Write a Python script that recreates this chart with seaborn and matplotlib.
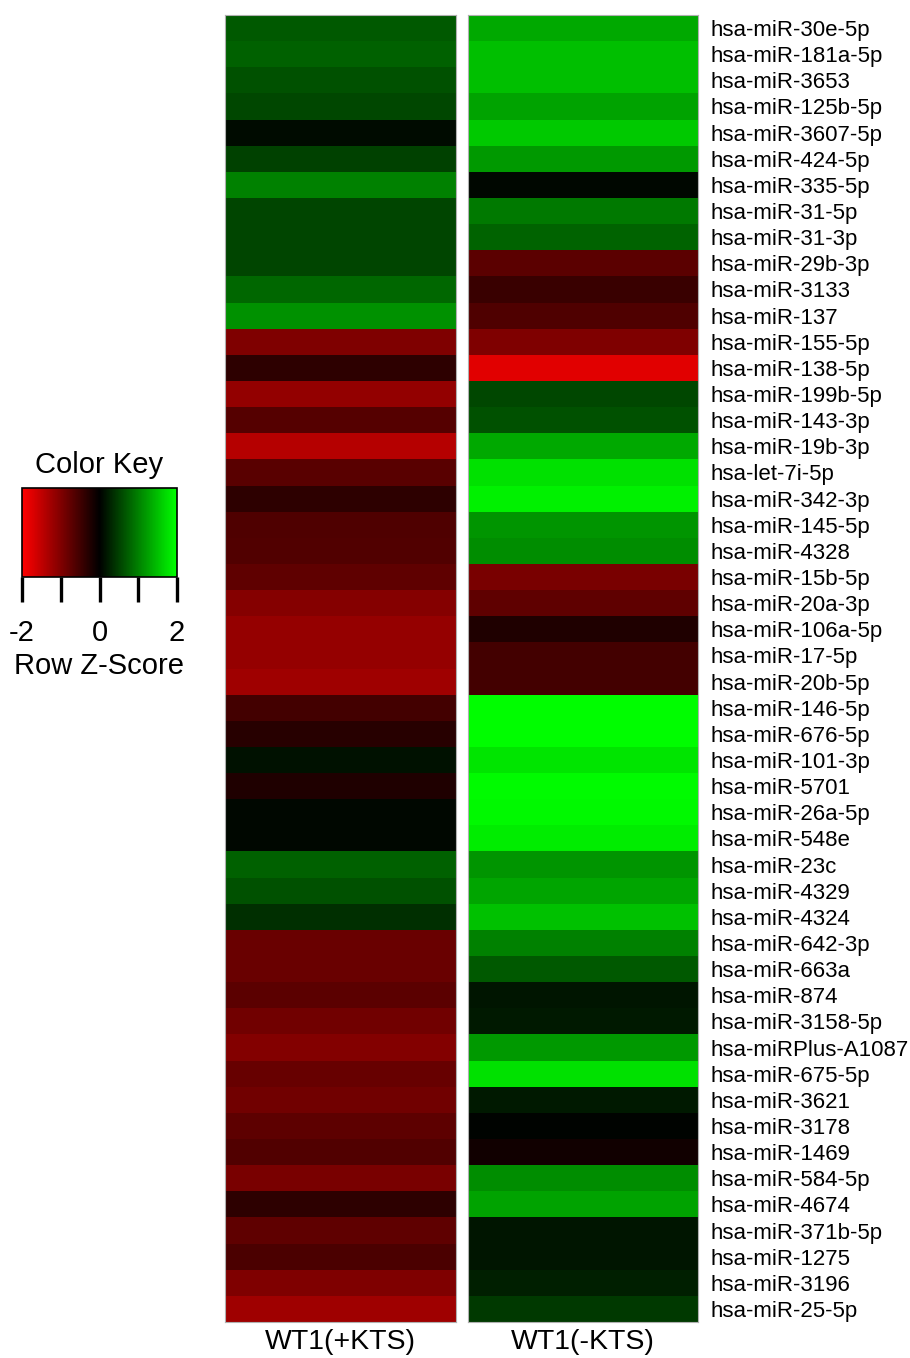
import numpy as np
import pandas as pd
import matplotlib
matplotlib.use('Agg')
import matplotlib.pyplot as plt
import seaborn as sns
from matplotlib.colors import LinearSegmentedColormap

sns.set_style('white')
plt.rcParams['font.family'] = ['Liberation Sans', 'DejaVu Sans']
plt.rcParams['text.color'] = 'black'
plt.rcParams['xtick.color'] = 'black'
plt.rcParams['ytick.color'] = 'black'
plt.rcParams['axes.labelcolor'] = 'black'

# miRNA 名称（从上到下）
mirnas = [
    'hsa-miR-30e-5p', 'hsa-miR-181a-5p', 'hsa-miR-3653', 'hsa-miR-125b-5p',
    'hsa-miR-3607-5p', 'hsa-miR-424-5p', 'hsa-miR-335-5p', 'hsa-miR-31-5p',
    'hsa-miR-31-3p', 'hsa-miR-29b-3p', 'hsa-miR-3133', 'hsa-miR-137',
    'hsa-miR-155-5p', 'hsa-miR-138-5p', 'hsa-miR-199b-5p', 'hsa-miR-143-3p',
    'hsa-miR-19b-3p', 'hsa-let-7i-5p', 'hsa-miR-342-3p', 'hsa-miR-145-5p',
    'hsa-miR-4328', 'hsa-miR-15b-5p', 'hsa-miR-20a-3p', 'hsa-miR-106a-5p',
    'hsa-miR-17-5p', 'hsa-miR-20b-5p', 'hsa-miR-146-5p', 'hsa-miR-676-5p',
    'hsa-miR-101-3p', 'hsa-miR-5701', 'hsa-miR-26a-5p', 'hsa-miR-548e',
    'hsa-miR-23c', 'hsa-miR-4329', 'hsa-miR-4324', 'hsa-miR-642-3p',
    'hsa-miR-663a', 'hsa-miR-874', 'hsa-miR-3158-5p', 'hsa-miRPlus-A1087',
    'hsa-miR-675-5p', 'hsa-miR-3621', 'hsa-miR-3178', 'hsa-miR-1469',
    'hsa-miR-584-5p', 'hsa-miR-4674', 'hsa-miR-371b-5p', 'hsa-miR-1275',
    'hsa-miR-3196', 'hsa-miR-25-5p',
]

# Row Z-score（按颜色估读）
wt1_plus_kts = [
    0.69, 0.75, 0.64, 0.56, 0.08, 0.50, 1.00, 0.54, 0.54, 0.54,
    0.80, 1.13, -1.00, -0.35, -1.15, -0.67, -1.42, -0.69, -0.35, -0.61,
    -0.64, -0.75, -1.04, -1.17, -1.17, -1.25, -0.52, -0.30, 0.13, -0.25,
    0.05, 0.05, 0.75, 0.64, 0.36, -0.82, -0.82, -0.71, -0.88, -1.02,
    -0.80, -0.89, -0.72, -0.63, -0.94, -0.35, -0.75, -0.58, -1.00, -1.25,
]
wt1_minus_kts = [
    1.32, 1.49, 1.49, 1.27, 1.57, 1.19, 0.06, 0.94, 0.77, -0.71,
    -0.45, -0.61, -1.00, -1.76, 0.56, 0.63, 1.32, 1.76, 1.88, 1.17,
    1.10, -0.94, -0.75, -0.25, -0.53, -0.53, 1.98, 1.98, 1.79, 1.96,
    1.95, 1.85, 1.17, 1.29, 1.51, 1.00, 0.69, 0.16, 0.20, 1.19,
    1.76, 0.20, 0.02, -0.14, 1.10, 1.27, 0.16, 0.16, 0.24, 0.45,
]

df = pd.DataFrame({'WT1(+KTS)': wt1_plus_kts, 'WT1(-KTS)': wt1_minus_kts}, index=mirnas)

cmap = LinearSegmentedColormap.from_list('rg', ['#FF0000', '#000000', '#00FF00'])

W, H = 910, 1358
fig = plt.figure(figsize=(W / 100, H / 100), dpi=100)

def box(x0, y0, x1, y1):
    return [x0 / W, 1 - y1 / H, (x1 - x0) / W, (y1 - y0) / H]

ax1 = fig.add_axes(box(225, 15, 456, 1322))
ax2 = fig.add_axes(box(468, 15, 698, 1322))
cax = fig.add_axes(box(22, 488, 177, 577))

sns.heatmap(df[['WT1(+KTS)']], ax=ax1, cmap=cmap, vmin=-2, vmax=2,
            yticklabels=False, cbar=True, cbar_ax=cax,
            cbar_kws={'orientation': 'horizontal'})
sns.heatmap(df[['WT1(-KTS)']], ax=ax2, cmap=cmap, vmin=-2, vmax=2,
            yticklabels=True, cbar=False)

for ax in (ax1, ax2):
    ax.tick_params(axis='x', length=0, labelsize=20.5, pad=5)
    ax.set_xticklabels(ax.get_xticklabels(), rotation=0)
    ax.set_ylabel('')
    for s in ax.spines.values():
        s.set_visible(True)
        s.set_color('#b0b0b0')
        s.set_linewidth(0.8)

ax2.yaxis.tick_right()
ax2.tick_params(axis='y', length=0, labelsize=16, pad=9)
ax2.set_yticklabels(mirnas, rotation=0)

# 颜色键
cax.set_xticks([-2, -1, 0, 1, 2])
cax.set_xticklabels(['-2', '', '0', '', '2'])
cax.tick_params(axis='x', direction='out', length=18, width=2.4, labelsize=21, pad=12,
                bottom=True, top=False, labelbottom=True, labeltop=False)
cax.xaxis.set_ticks_position('bottom')
cax.set_xlabel('Row Z-Score', fontsize=21, labelpad=4)
cax.set_title('Color Key', fontsize=21, pad=11)
cb = ax1.collections[0].colorbar
cb.outline.set_edgecolor('black')
cb.outline.set_linewidth(1.2)

fig.savefig('out.png', dpi=100)
